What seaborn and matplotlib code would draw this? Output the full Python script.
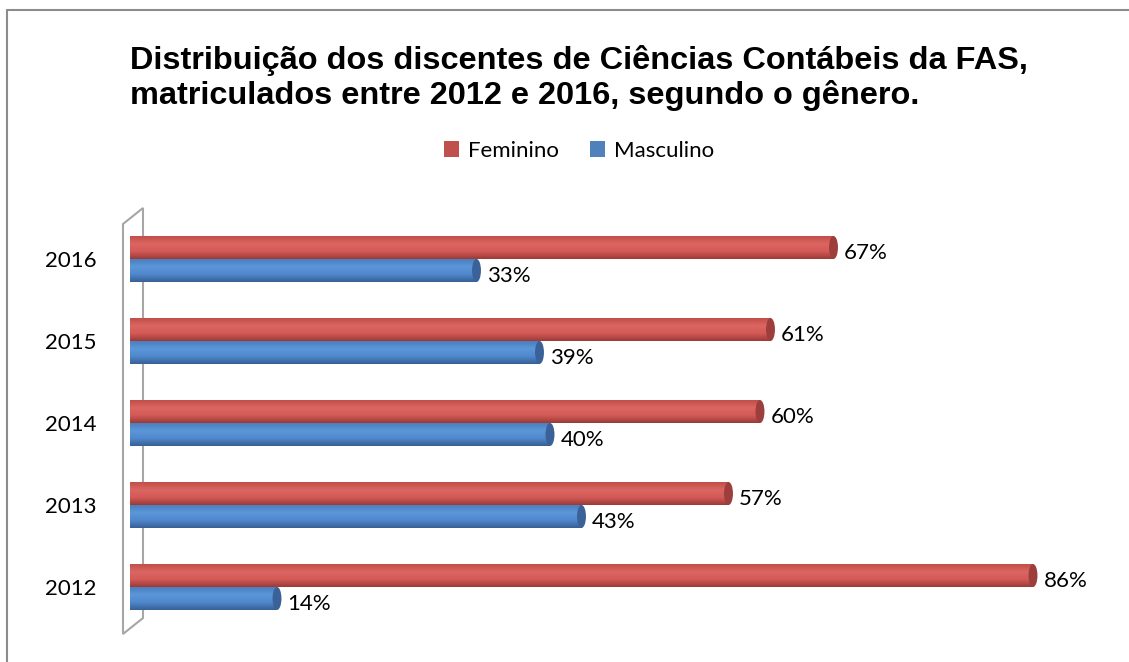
import numpy as np
import pandas as pd
import seaborn as sns
import matplotlib.pyplot as plt
from matplotlib.patches import Ellipse, Polygon, Patch
from matplotlib.lines import Line2D
from matplotlib.colors import to_rgb

anos = ["2016", "2015", "2014", "2013", "2012"]
feminino = [67, 61, 60, 57, 86]
masculino = [33, 39, 40, 43, 14]
generos = ["Feminino", "Masculino"]

df = pd.DataFrame({
    "Ano": anos * 2,
    "Valor": feminino + masculino,
    "Genero": ["Feminino"] * len(anos) + ["Masculino"] * len(anos),
})

cores = {"Feminino": "#C0504D", "Masculino": "#4F81BD"}
# tons para imitar o cilindro 3D (topo, meio, base)
gradientes = {
    "Feminino": ["#C24E4A", "#DB6662", "#D45A56", "#9A3B38"],
    "Masculino": ["#4A7EBF", "#5C97DA", "#4F88CC", "#385F95"],
}
tampa = {"Feminino": "#9C3E3B", "Masculino": "#3A6298"}

sns.set_style("white")
plt.rcParams["font.family"] = ["Lato", "DejaVu Sans"]
plt.rcParams["text.color"] = "black"
plt.rcParams["ytick.color"] = "black"

W, H = 1129, 662
fig = plt.figure(figsize=(W / 100, H / 100), dpi=100)
ax = fig.add_axes([130 / W, 1 - 628 / H, 945 / W, 410 / H])

sns.barplot(data=df, y="Ano", x="Valor", hue="Genero", order=anos,
            hue_order=generos, palette=cores, orient="h", width=0.56,
            ax=ax, legend=False, saturation=1)


def grad_img(stops, n=64):
    cols = np.array([to_rgb(c) for c in stops])
    pos = np.linspace(0, 1, len(stops))
    t = np.linspace(0, 1, n)
    img = np.stack([np.interp(t, pos, cols[:, k]) for k in range(3)], axis=1)
    return img[:, None, :]


barras = list(ax.patches)
n = len(anos)
for i, p in enumerate(barras):
    g = generos[i // n]
    x0, y0 = p.get_x(), p.get_y()
    w, h = p.get_width(), p.get_height()
    p.set_edgecolor("none")
    im = ax.imshow(grad_img(gradientes[g]), extent=(x0, x0 + w, y0 + h, y0),
                   aspect="auto", zorder=2, interpolation="bilinear")
    im.set_clip_path(p)
    ax.add_patch(Ellipse((x0 + w, y0 + h / 2), 0.85, h, facecolor=tampa[g],
                         edgecolor="none", zorder=3))
    ax.add_patch(Ellipse((x0 + 0.05, y0 + h / 2), 0.85, h,
                         facecolor=gradientes[g][2], edgecolor="none", zorder=1.5))
    ax.text(x0 + w + 1.0, y0 + h / 2 + 0.07, f"{int(round(w))}%",
            va="center", ha="left", fontsize=16, color="black")

ax.set_xlim(0, 90)
ax.set_ylim(4.5, -0.5)
ax.set_xlabel("")
ax.set_ylabel("")
ax.set_xticks([])
ax.tick_params(axis="y", length=0, pad=24, labelsize=16, labelcolor="black")
for s in ax.spines.values():
    s.set_visible(False)
ax.patch.set_alpha(0)

# parede lateral 3D
pts = [(123, 224), (143, 208), (143, 618), (123, 634)]
fig.patches.append(Polygon([(x / W, 1 - y / H) for x, y in pts], closed=True,
                           facecolor="none", edgecolor="#A6A6A6", lw=1.5,
                           transform=fig.transFigure, zorder=-1))

# moldura
fig.add_artist(Line2D([7 / W, 1], [1 - 10 / H, 1 - 10 / H], color="#8C8C8C", lw=1.5))
fig.add_artist(Line2D([7 / W, 7 / W], [0, 1 - 10 / H], color="#8C8C8C", lw=1.5))

fig.text(130 / W, 1 - 78 / H,
         "Distribuição dos discentes de Ciências Contábeis da FAS,\n"
         "matriculados entre 2012 e 2016, segundo o gênero.",
         ha="left", va="center", fontsize=23.4, fontweight="bold",
         family="Liberation Sans", linespacing=1.2, color="black")

handles = [Patch(facecolor=cores[g], edgecolor="none") for g in generos]
fig.legend(handles, generos, loc="center", bbox_to_anchor=(579 / W, 1 - 151 / H),
           ncol=2, frameon=False, fontsize=16, handlelength=0.7, handleheight=0.7,
           handletextpad=0.4, columnspacing=1.4, labelcolor="black")

fig.savefig("out.png", dpi=100, facecolor="white")
